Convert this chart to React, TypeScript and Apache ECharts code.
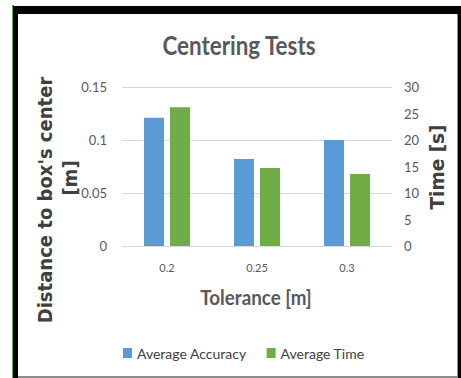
import React, { useEffect, useRef } from "react";
import * as echarts from "echarts";

const categories = ["0.2", "0.25", "0.3"];
const averageAccuracy = [0.121, 0.082, 0.1];
const averageTime = [26.2, 14.7, 13.6];
const titleText = "Centering Tests";
const leftAxisName1 = "Distance to box's center";
const leftAxisName2 = "[m]";
const rightAxisName = "Time [s]";
const xAxisName = "Tolerance [m]";

const TEXT = "#595959";
const NAME = "#404040";
const BLUE = "#5B9BD5";
const GREEN = "#70AD47";

export default function App() {
  const ref = useRef<HTMLDivElement>(null);
  useEffect(() => {
    if (!ref.current) return;
    const chart = echarts.init(ref.current, undefined, { renderer: "svg" });
    const nameStyle = (fontSize: number) => ({
      fontFamily: "DejaVu Sans",
      fontWeight: "bold",
      fontSize,
      fill: NAME,
      textAlign: "center",
      textVerticalAlign: "middle",
    });
    chart.setOption({
      animation: false,
      backgroundColor: "#ffffff",
      legend: {
        top: 341,
        left: 118,
        itemWidth: 9,
        itemHeight: 10,
        itemGap: 20,
        icon: "rect",
        textStyle: { fontFamily: "Lato", fontSize: 14, color: NAME },
        data: ["Average Accuracy", "Average Time"],
      },
      grid: { left: 122, right: 69, top: 87, bottom: 132 },
      xAxis: {
        type: "category",
        data: categories,
        axisLine: { show: true, lineStyle: { color: "#D9D9D9" } },
        axisTick: { show: false },
        axisLabel: { fontFamily: "Lato", fontSize: 11, color: TEXT, margin: 16 },
      },
      yAxis: [
        {
          type: "value",
          min: 0,
          max: 0.15,
          interval: 0.05,
          axisLine: { show: false },
          axisTick: { show: false },
          axisLabel: { fontFamily: "Lato", fontSize: 13, color: TEXT, margin: 15 },
          splitLine: { lineStyle: { color: "#D9D9D9" } },
        },
        {
          type: "value",
          min: 0,
          max: 30,
          interval: 5,
          axisLine: { show: false },
          axisTick: { show: false },
          axisLabel: { fontFamily: "Lato", fontSize: 13, color: TEXT, margin: 12 },
          splitLine: { show: false },
        },
      ],
      series: [
        {
          name: "Average Accuracy",
          type: "bar",
          yAxisIndex: 0,
          data: averageAccuracy,
          barWidth: 20,
          barGap: "30%",
          itemStyle: { color: BLUE },
        },
        {
          name: "Average Time",
          type: "bar",
          yAxisIndex: 1,
          data: averageTime,
          barWidth: 20,
          barGap: "30%",
          itemStyle: { color: GREEN },
        },
      ],
      graphic: [
        {
          type: "text",
          x: 239,
          y: 45,
          scaleX: 0.83,
          style: {
            text: titleText,
            fontFamily: "Lato",
            fontWeight: "bold",
            fontSize: 27,
            fill: TEXT,
            textAlign: "center",
            textVerticalAlign: "middle",
          },
          silent: true,
        },
        {
          type: "text",
          x: 256,
          y: 297,
          scaleX: 0.94,
          style: {
            text: xAxisName,
            fontFamily: "Lato",
            fontWeight: "bold",
            fontSize: 20,
            fill: TEXT,
            textAlign: "center",
            textVerticalAlign: "middle",
          },
          silent: true,
        },
        {
          type: "text",
          x: 45,
          y: 200,
          rotation: Math.PI / 2,
          scaleY: 1.12,
          style: { text: leftAxisName1, ...nameStyle(18) },
          silent: true,
        },
        {
          type: "text",
          x: 70,
          y: 178,
          rotation: Math.PI / 2,
          scaleY: 1.12,
          style: { text: leftAxisName2, ...nameStyle(18) },
          silent: true,
        },
        {
          type: "text",
          x: 437,
          y: 167,
          rotation: Math.PI / 2,
          scaleY: 1.05,
          style: { text: rightAxisName, ...nameStyle(18.5) },
          silent: true,
        },
        { type: "rect", shape: { x: 12, y: 5, width: 2, height: 373 }, style: { fill: "#5FA35F" }, silent: true },
        { type: "rect", shape: { x: 13, y: 6, width: 5, height: 372 }, style: { fill: "#000000" }, silent: true },
        { type: "rect", shape: { x: 13, y: 6, width: 448, height: 8 }, style: { fill: "#000000" }, silent: true },
        { type: "rect", shape: { x: 457, y: 14, width: 1, height: 364 }, style: { fill: "#8C8C8C" }, silent: true },
        { type: "rect", shape: { x: 458, y: 14, width: 3, height: 364 }, style: { fill: "#000000" }, silent: true },
        { type: "rect", shape: { x: 18, y: 376, width: 439, height: 2 }, style: { fill: "#8C8C8C" }, silent: true },
      ],
    });
    return () => chart.dispose();
  }, []);
  return (
    <div
      ref={ref}
      style={{ position: "fixed", left: 0, top: 0, width: 461, height: 378 }}
    />
  );
}
